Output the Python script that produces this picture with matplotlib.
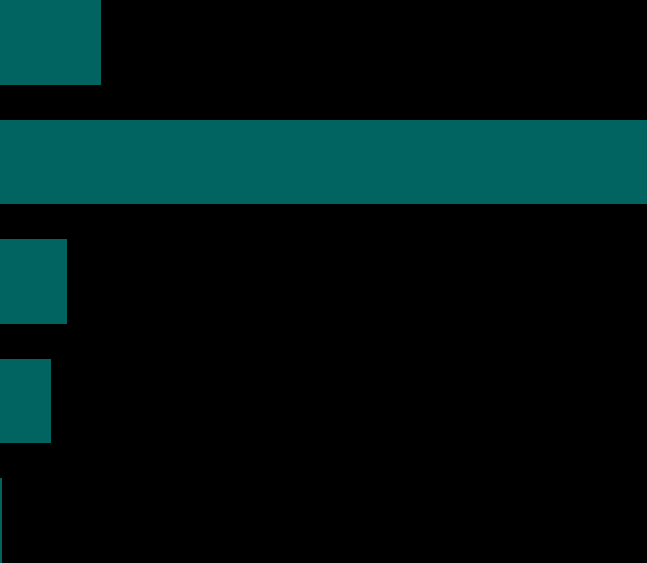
import matplotlib
matplotlib.use("Agg")
import matplotlib.pyplot as plt

categories = ["A", "B", "C", "D", "E"]
values = [15.6, 100.0, 10.4, 7.9, 0.25]

bar_h = 0.711
fig = plt.figure(figsize=(6.47, 5.63), dpi=100, facecolor="black")
ax = fig.add_axes([0, 0, 1, 1])
ax.set_facecolor("black")
pos = list(range(len(categories)))
ax.barh(pos, values, height=bar_h, color="#016461", edgecolor="none")
ax.set_xlim(0, max(values))
ax.set_ylim(len(categories) - 1 + bar_h / 2, -bar_h / 2)
ax.set_yticks(pos)
ax.set_yticklabels(categories)
ax.axis("off")
fig.savefig("out.png", dpi=100, facecolor="black")
